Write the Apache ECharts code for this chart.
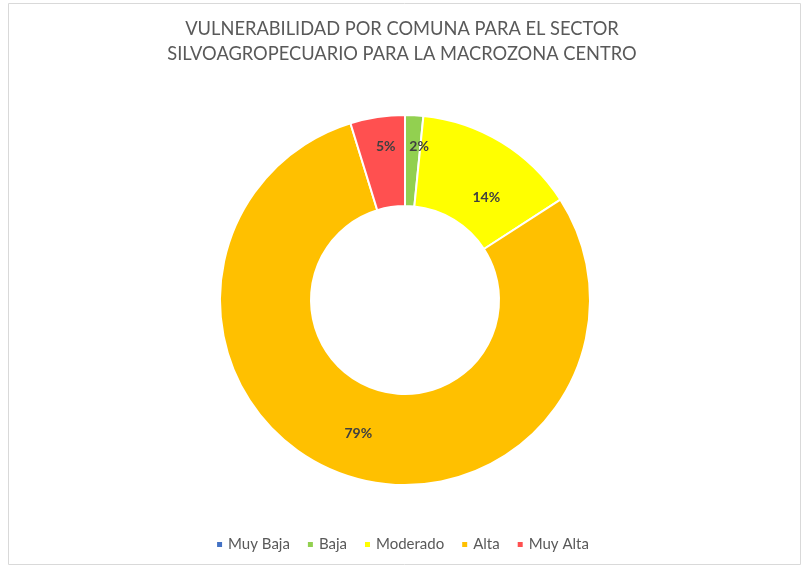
<!DOCTYPE html>
<html>
<head>
<meta charset="utf-8">
<script src="https://cdn.jsdelivr.net/npm/echarts@6/dist/echarts.min.js"></script>
<style>
  html, body { margin: 0; padding: 0; background: #fff; }
  #chart { width: 804px; height: 571px; }
</style>
</head>
<body>
<div id="chart"></div>
<script>
// categorias y cantidad de comunas por nivel
const categories = ['Muy Baja', 'Baja', 'Moderado', 'Alta', 'Muy Alta']
const values = [0, 1, 9, 50, 3]
const colors = ['#4472C4', '#92D050', '#FFFF00', '#FFC000', '#FF5050']
// desplazamiento de las etiquetas respecto al centro del anillo (como en Excel)
const labelShift = [[0, 0], [7, -11], [7, 19], [2, 0], [2, -13]]

let myChart = echarts.init(document.getElementById('chart'))

myChart.setOption({
  color: colors,
  // marco del grafico
  graphic: [{
    type: 'rect',
    shape: { x: 8.5, y: 3.5, width: 792, height: 561 },
    style: { fill: 'none', stroke: '#d9d9d9', lineWidth: 1 },
    silent: true
  }],
  title: {
    text: 'VULNERABILIDAD POR COMUNA PARA EL SECTOR\nSILVOAGROPECUARIO PARA LA MACROZONA CENTRO',
    left: 'center',
    top: 12,
    textStyle: {
      color: '#595959',
      fontSize: 18.3,
      fontWeight: 'normal',
      fontFamily: 'Lato',
      lineHeight: 25
    }
  },
  legend: {
    bottom: 14,
    left: 'center',
    icon: 'rect',
    itemWidth: 7,
    itemHeight: 7,
    itemGap: 16,
    data: categories,
    textStyle: {
      color: '#595959',
      fontSize: 15,
      fontFamily: 'Lato'
    }
  },
  series: [{
    name: 'Vulnerabilidad',
    type: 'pie',
    center: [405, 300],
    radius: [94, 185],
    startAngle: 90,
    clockwise: true,
    avoidLabelOverlap: false,
    itemStyle: {
      borderColor: '#fff',
      borderWidth: 2
    },
    label: {
      position: 'inside',
      color: '#404040',
      fontSize: 14,
      fontWeight: 'bold',
      fontFamily: 'Lato',
      formatter: function (p) {
        return p.value > 0 ? Math.round(p.percent) + '%' : ''
      }
    },
    labelLayout: function (params) {
      let s = labelShift[params.dataIndex]
      return { dx: s[0], dy: s[1] }
    },
    labelLine: { show: false },
    emphasis: { disabled: true },
    data: categories.map((name, i) => ({ name: name, value: values[i] }))
  }]
})
</script>
</body>
</html>
